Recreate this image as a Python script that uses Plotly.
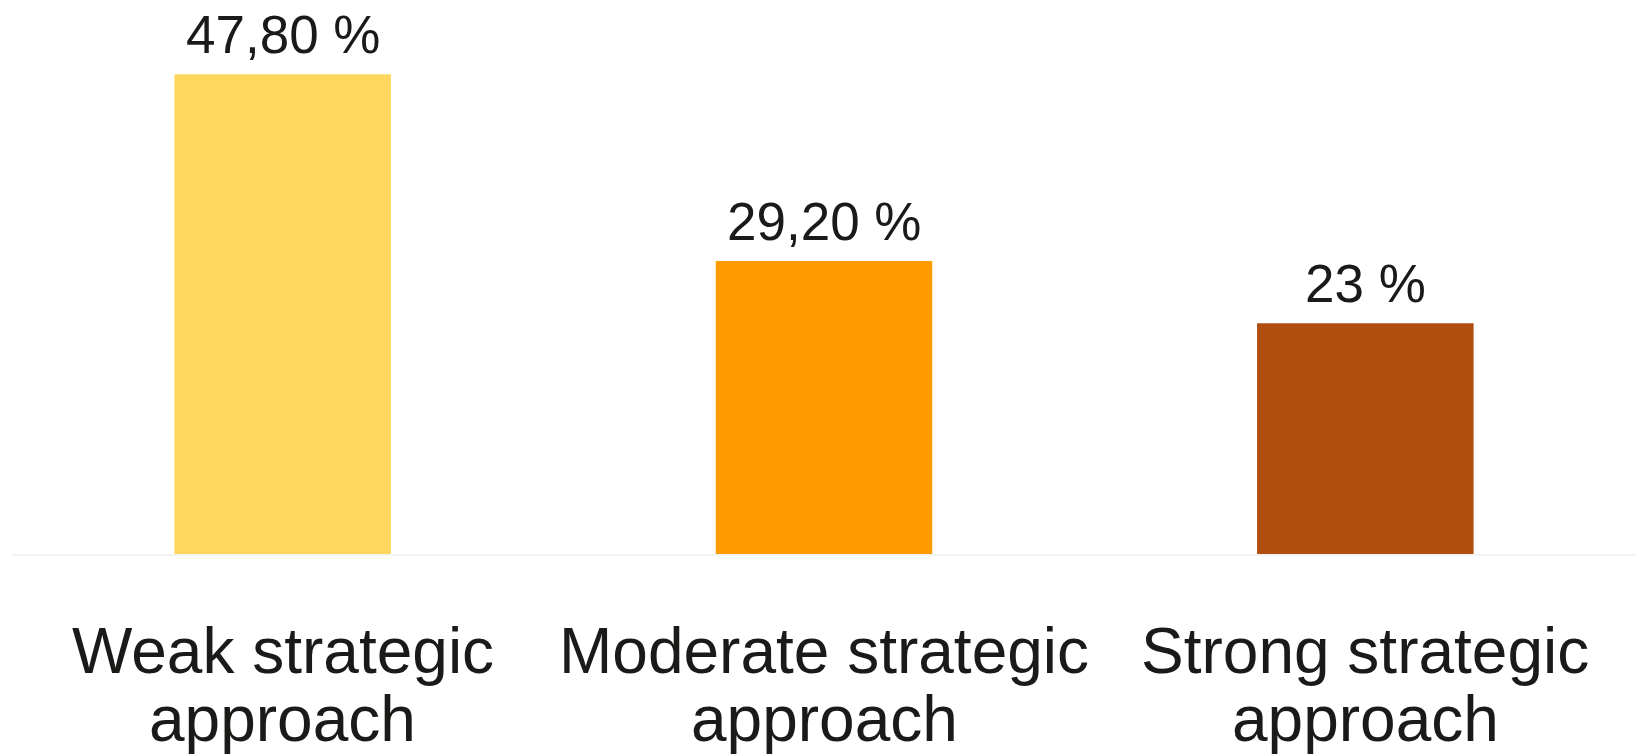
import plotly.graph_objects as go

categories = ["Weak strategic approach", "Moderate strategic approach", "Strong strategic approach"]
label_lines = [["Weak strategic", "approach"], ["Moderate strategic", "approach"], ["Strong strategic", "approach"]]
values = [47.8, 29.2, 23.0]
value_labels = ["47,80 %", "29,20 %", "23 %"]
colors = ["#FFD75E", "#FF9A00", "#B04E10"]

FONT = "Liberation Sans, Arial, sans-serif"
TXT = "#1a1a18"

fig = go.Figure()
fig.add_trace(go.Bar(
    x=categories, y=values,
    marker=dict(color=colors, line=dict(width=0)),
    hoverinfo="skip",
))

annotations = []
for cat, lab, v in zip(categories, value_labels, values):
    annotations.append(dict(
        x=cat, y=v, xref="x", yref="y", text=lab, showarrow=False,
        yanchor="bottom", xanchor="center", yshift=8,
        font=dict(family=FONT, size=53, color=TXT),
    ))
for cat, lines in zip(categories, label_lines):
    for i, line in enumerate(lines):
        annotations.append(dict(
            x=cat, y=0, xref="x", yref="paper", text=line, showarrow=False,
            yanchor="top", xanchor="center", yshift=-59 - 68 * i,
            font=dict(family=FONT, size=64, color=TXT),
        ))

fig.update_layout(
    width=1639, height=756,
    margin=dict(l=12, r=3, t=20, b=202),
    paper_bgcolor="white", plot_bgcolor="white",
    bargap=0.6,
    showlegend=False,
    annotations=annotations,
    xaxis=dict(showticklabels=False, ticks="", showgrid=False, zeroline=False,
               showline=True, linecolor="#f3f3f3", linewidth=2, fixedrange=True),
    yaxis=dict(range=[0, 53.2], visible=False, showgrid=False, zeroline=False, fixedrange=True),
)

fig.write_html("out.html", config={"displayModeBar": False})
